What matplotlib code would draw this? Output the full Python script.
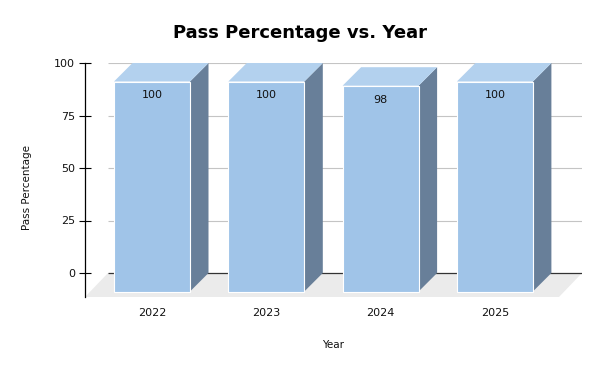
import numpy as np
import matplotlib
matplotlib.use("Agg")
import matplotlib.pyplot as plt
from matplotlib.patches import Polygon, Rectangle

# data
years = ["2022", "2023", "2024", "2025"]
pass_pct = [100, 100, 98, 100]
yticks = [0, 25, 50, 75, 100]

W, H = 600, 371
fig = plt.figure(figsize=(6, 3.71), dpi=100)

# plot area in pixels
left_px, right_px, top_px, bot_px = 85, 582, 63, 297
ax = fig.add_axes([left_px / W, 1 - bot_px / H,
                   (right_px - left_px) / W, (bot_px - top_px) / H])

# pixel -> data scales
ppu_y = 2.1           # pixels per percent
ppu_x = 114.3         # pixels per category
x0 = -(152 - left_px) / ppu_x
x1 = x0 + (right_px - left_px) / ppu_x
y0 = -(bot_px - 273) / ppu_y
ax.set_xlim(x0, x1)
ax.set_ylim(y0, 100)

dx = 18.5 / ppu_x
dy = 18.5 / ppu_y
bw = 76 / ppu_x
fdx = 23 / ppu_x      # floor depth

# floor
floor = Polygon([(x0, y0), (x1 - fdx, y0), (x1, 0), (x0 + fdx, 0)],
                closed=True, facecolor="#ebebeb", edgecolor="none", zorder=0)
ax.add_patch(floor)

# gridlines on back wall
for v in yticks[1:]:
    ax.plot([x0 + fdx, x1], [v, v], color="#c4c4c4", lw=0.8, zorder=1,
            solid_capstyle="butt")
ax.plot([x0 + fdx, x1], [0, 0], color="#333333", lw=0.9, zorder=1,
        solid_capstyle="butt")

# 3d bars
for i, v in enumerate(pass_pct):
    l, r = i - bw / 2, i + bw / 2
    side = Polygon([(r, -dy), (r + dx, 0), (r + dx, v), (r, v - dy)],
                   closed=True, facecolor="#687f99", edgecolor="none", zorder=2)
    top = Polygon([(l, v - dy), (r, v - dy), (r + dx, v), (l + dx, v)],
                  closed=True, facecolor="#b3d1ee", edgecolor="none", zorder=2)
    front = Rectangle((l, -dy), bw, v, facecolor="#a0c4e8",
                      edgecolor="white", lw=0.8, zorder=3)
    ax.add_patch(side)
    ax.add_patch(top)
    ax.add_patch(front)
    ax.text(i, v - dy - 14 / ppu_y, str(v), ha="center", va="center",
            fontsize=8, color="#111111", zorder=4)

# axes styling
for s in ["top", "right", "bottom"]:
    ax.spines[s].set_visible(False)
ax.spines["left"].set_linewidth(0.9)
ax.set_yticks(yticks)
ax.tick_params(axis="y", direction="inout", length=8.5, width=0.8,
               labelsize=8, pad=3, labelcolor="#111111")
ax.set_xticks(range(len(years)))
ax.set_xticklabels(years)
ax.tick_params(axis="x", length=0, labelsize=8, pad=8, labelcolor="#111111")
ax.patch.set_alpha(0)

fig.text(300 / W, 1 - 33 / H, "Pass Percentage vs. Year", ha="center",
         va="center", fontsize=13, fontweight="bold")
fig.text(333 / W, 1 - 345 / H, "Year", ha="center", va="center",
         fontsize=7.5, color="#111111")
fig.text(27 / W, 1 - 187 / H, "Pass Percentage", ha="center", va="center",
         rotation=90, fontsize=7.5, color="#111111")

fig.savefig("out.png", dpi=100)
